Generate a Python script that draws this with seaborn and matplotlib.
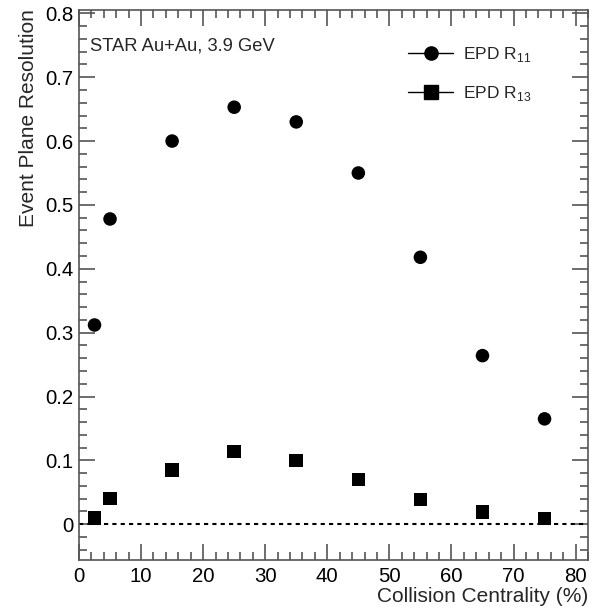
import numpy as np
import pandas as pd
import matplotlib
matplotlib.use("Agg")
import matplotlib.pyplot as plt
from matplotlib.lines import Line2D
from matplotlib.ticker import MultipleLocator
import seaborn as sns

centrality = [2.5, 5, 15, 25, 35, 45, 55, 65, 75]
r11 = [0.312, 0.478, 0.600, 0.653, 0.630, 0.550, 0.418, 0.264, 0.165]
r13 = [0.010, 0.040, 0.085, 0.114, 0.100, 0.070, 0.039, 0.019, 0.009]
series_names = ["EPD R$_{11}$", "EPD R$_{13}$"]
x_ticklabels = ["0", "10", "20", "30", "40", "50", "60", "70", "80"]
y_ticklabels = ["0", "0.1", "0.2", "0.3", "0.4", "0.5", "0.6", "0.7", "0.8"]

df = pd.DataFrame({
    "cent": centrality * 2,
    "res": r11 + r13,
    "series": [series_names[0]] * len(r11) + [series_names[1]] * len(r13),
})

sns.set_style("ticks")
plt.rcParams["font.family"] = ["Liberation Sans", "DejaVu Sans"]
plt.rcParams["mathtext.fontset"] = "custom"
plt.rcParams["mathtext.rm"] = "Liberation Sans"

fig = plt.figure(figsize=(5.97, 6.09), dpi=100)
ax = fig.add_axes([79/597, 1-560/609, (588-79)/597, (560-9.5)/609])

sns.scatterplot(data=df, x="cent", y="res", style="series", hue="series",
                palette={series_names[0]: "black", series_names[1]: "black"},
                markers={series_names[0]: "o", series_names[1]: "s"},
                s=95, linewidth=0, legend=False, ax=ax, zorder=3)

ax.axhline(0, color="black", linestyle=(0, (2, 2)), linewidth=1.5, zorder=1)

ax.set_xlim(0, 82)
ax.set_ylim(-0.056, 0.806)
ax.set_xticks(np.arange(0, 81, 10))
ax.set_xticklabels(x_ticklabels)
ax.set_yticks(np.arange(0, 0.81, 0.1))
ax.set_yticklabels(y_ticklabels)
ax.xaxis.set_minor_locator(MultipleLocator(2))
ax.yaxis.set_minor_locator(MultipleLocator(0.02))

frame_col = "#555555"
for sp in ax.spines.values():
    sp.set_color(frame_col)
    sp.set_linewidth(1.2)
ax.tick_params(which="both", direction="in", top=True, right=True,
               color=frame_col, width=1.2, labelsize=14.7, labelcolor="black")
ax.tick_params(which="major", length=11.5)
ax.tick_params(which="minor", length=6)
ax.tick_params(axis="y", which="major", pad=4)
ax.tick_params(axis="x", which="major", pad=5)

ax.set_xlabel("Collision Centrality (%)", fontsize=15, loc="right", labelpad=1)
ax.set_ylabel("Event Plane Resolution", fontsize=15, loc="top", labelpad=5)

ax.text(0.0216, 0.934, "STAR Au+Au, 3.9 GeV", transform=ax.transAxes,
        fontsize=13.2, ha="left", va="center")

handles = [
    Line2D([0], [0], color="black", lw=1, marker="o", markersize=9.5),
    Line2D([0], [0], color="black", lw=1, marker="s", markersize=9.5),
]
leg = ax.legend(handles, series_names, loc="upper left",
                bbox_to_anchor=((408-79)/509, 0.936), frameon=False, fontsize=12.5,
                handlelength=2.6, labelspacing=1.15, handletextpad=0.55,
                borderpad=0, borderaxespad=0)

fig.savefig("out.png", dpi=100)
